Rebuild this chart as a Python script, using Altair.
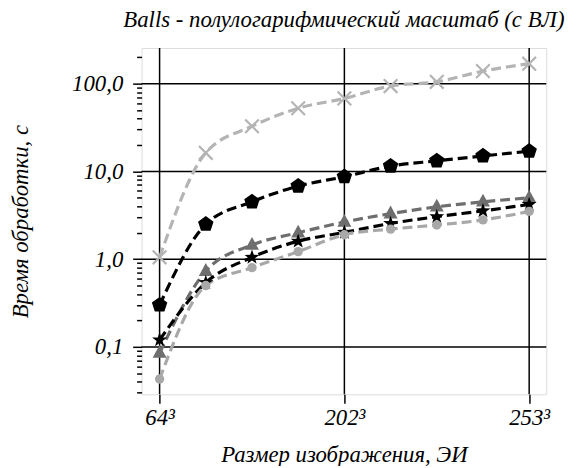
import altair as alt
import pandas as pd

# x positions are evenly spaced image sizes (index 0..8); only 3 are labeled
x_index = [0, 1, 2, 3, 4, 5, 6, 7, 8]
tick_positions = [0, 4, 8]
tick_labels = ["64³", "202³", "253³"]

cross_vals = [1.05, 16.3, 32.7, 52.5, 68.0, 94.0, 105.0, 139.0, 169.0]
pent_vals = [0.30, 2.5, 4.5, 6.8, 8.7, 11.5, 13.2, 15.0, 17.0]
tri_vals = [0.085, 0.73, 1.45, 2.0, 2.65, 3.3, 3.95, 4.5, 5.0]
star_vals = [0.12, 0.54, 1.05, 1.6, 2.02, 2.55, 3.05, 3.55, 4.2]
circ_vals = [0.043, 0.50, 0.80, 1.22, 1.9, 2.2, 2.45, 2.8, 3.5]

series_names = ["cross", "pent", "tri", "star", "circ"]
series_vals = [cross_vals, pent_vals, tri_vals, star_vals, circ_vals]

major_ticks = [0.1, 1, 10, 100]
minor_ticks = [m * 10.0 ** e for e in range(-2, 3) for m in range(2, 10)
               if 0.029 <= m * 10.0 ** e <= 255]

rows = []
for name, vals in zip(series_names, series_vals):
    for xi, v in zip(x_index, vals):
        rows.append({"series": name, "x": xi, "y": v})
df = pd.DataFrame(rows)

FONT = "Liberation Serif"
FS = 23
W, H = 409, 350

xscale = alt.Scale(domain=[-0.39, 8.37], nice=False, zero=False)
yscale = alt.Scale(type="log", domain=[0.0288, 255], nice=False)

label_js = "datum.value == 0 ? '%s' : datum.value == 4 ? '%s' : '%s'" % tuple(tick_labels)

styles = {
    "cross": dict(color="#b4b4b4", shape="M-1,-1L1,1M-1,1L1,-1", size=190, filled=False, sw=2.2),
    "pent": dict(color="#000000", shape="M0,-1L0.951,-0.309L0.588,0.809L-0.588,0.809L-0.951,-0.309Z", size=270, filled=True, sw=1),
    "tri": dict(color="#6e6e6e", shape="M0,-1.1L0.95,0.65L-0.95,0.65Z", size=220, filled=True, sw=1),
    "star": dict(color="#000000",
                 shape="M0,-1L0.235,-0.324L0.951,-0.309L0.38,0.124L0.588,0.809L0,0.4L-0.588,0.809L-0.38,0.124L-0.951,-0.309L-0.235,-0.324Z",
                 size=250, filled=True, sw=1),
    "circ": dict(color="#a8a8a8", shape="circle", size=90, filled=True, sw=1),
}

base = alt.Chart(df)

grid_x = alt.Chart(pd.DataFrame({"t": tick_positions})).mark_rule(
    color="#000000", strokeWidth=1.5).encode(
    x=alt.X("t:Q", scale=xscale, axis=alt.Axis(
        values=tick_positions, grid=False, domain=False, tickColor="#000000",
        tickWidth=1.5, tickSize=9, labelFont=FONT, labelFontStyle="italic",
        labelFontSize=FS, labelColor="#000000", labelPadding=3,
        labelExpr=label_js,
        title="Размер изображения, ЭИ", titleFont=FONT, titleFontStyle="italic",
        titleFontWeight="normal", titleFontSize=FS, titleColor="#000000", titlePadding=15)),
)

grid_y = alt.Chart(pd.DataFrame({"v": major_ticks})).mark_rule(
    color="#000000", strokeWidth=1.5).encode(
    y=alt.Y("v:Q", scale=yscale, axis=alt.Axis(
        values=major_ticks, grid=False, domain=False, tickColor="#000000",
        tickWidth=1.5, tickSize=9, labelFont=FONT, labelFontStyle="italic",
        labelFontSize=FS, labelColor="#000000", labelPadding=10,
        labelExpr="replace(format(datum.value, '.1f'), '.', ',')",
        title="Время обработки, с", titleFont=FONT, titleFontStyle="italic",
        titleFontWeight="normal", titleFontSize=FS, titleColor="#000000", titlePadding=40)),
)

minor = alt.Chart(pd.DataFrame({"v": minor_ticks})).mark_point(opacity=0).encode(
    y=alt.Y("v:Q", scale=yscale, axis=alt.Axis(
        values=minor_ticks, grid=False, domain=False, labels=False, title=None,
        tickColor="#000000", tickWidth=1.5, tickSize=5, orient="left")),
)

layers = [grid_x, grid_y, minor]
for name in series_names:
    st = styles[name]
    d = base.transform_filter(alt.datum.series == name)
    line = d.mark_line(color=st["color"], strokeWidth=3.2, strokeDash=[10, 5],
                       interpolate="monotone").encode(
        x=alt.X("x:Q", scale=xscale, axis=None),
        y=alt.Y("y:Q", scale=yscale, axis=None),
    )
    layers.append(line)
for name in series_names:
    st = styles[name]
    d = base.transform_filter(alt.datum.series == name)
    pts = d.mark_point(shape=st["shape"], size=st["size"], filled=st["filled"],
                       color=st["color"], strokeWidth=st["sw"], opacity=1).encode(
        x=alt.X("x:Q", scale=xscale, axis=None),
        y=alt.Y("y:Q", scale=yscale, axis=None),
    )
    layers.append(pts)

chart = alt.layer(*layers).resolve_axis(x="independent", y="independent").properties(
    width=W, height=H,
    title=alt.TitleParams("Balls - полулогарифмический масштаб (с ВЛ)", font=FONT,
                          fontStyle="italic", fontWeight="normal", fontSize=FS,
                          color="#000000", anchor="middle", frame="group", offset=15),
    autosize=alt.AutoSizeParams(type="none"),
    padding={"left": 135, "top": 38, "right": 25, "bottom": 70},
).configure_view(stroke="#000000", strokeWidth=1.5).configure(background="#ffffff")

chart.save("out.html", embed_options={"renderer": "svg", "actions": False})
